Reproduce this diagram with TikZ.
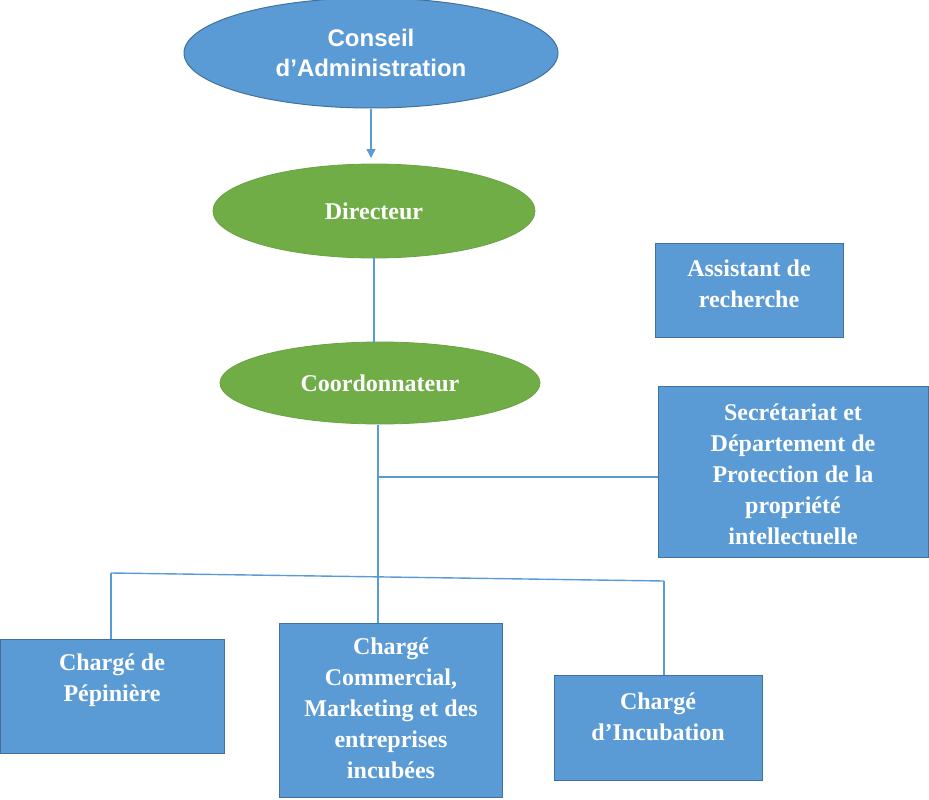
\documentclass[tikz,border=0pt]{standalone}
\usepackage{fontspec}
\setmainfont{Liberation Serif}
\newfontfamily\arialfont{Liberation Sans}
\usetikzlibrary{shapes.geometric,arrows.meta}
\definecolor{boxblue}{HTML}{5B9BD5}
\definecolor{boxedge}{HTML}{41719C}
\definecolor{ellgreen}{HTML}{70AD47}
\definecolor{greenedge}{HTML}{6AA342}
\definecolor{linkblue}{HTML}{5B9BD5}
\tikzset{
  x=1pt,y=-1pt,
  blueell/.style={ellipse,fill=boxblue,draw=boxedge,line width=1pt,inner sep=0pt,text=white,font=\arialfont\bfseries\fontsize{24}{30}\selectfont,align=center},
  greenell/.style={ellipse,fill=ellgreen,draw=greenedge,line width=0.8pt,inner sep=0pt,text=white,font=\bfseries\fontsize{24}{31}\selectfont,align=center},
  orgbox/.style={rectangle,fill=boxblue,draw=boxedge,line width=1pt,inner sep=0pt},
  boxtext/.style={text=white,font=\bfseries\fontsize{24}{31}\selectfont,align=center,inner sep=0pt},
  link/.style={draw=linkblue,line width=1.4pt},
}
\begin{document}
\begin{tikzpicture}
\useasboundingbox (0,0) rectangle (929,800);
% ellipses
\node[blueell,minimum width=374,minimum height=110] (ca) at (371,53) {Conseil\\d’Administration};
\node[greenell,minimum width=322,minimum height=94] (dir) at (374,211) {Directeur};
\node[greenell,minimum width=320,minimum height=82] (coord) at (380,383) {Coordonnateur};
% right boxes
\node[orgbox,minimum width=188,minimum height=94] (asst) at (749,290) {};
\node[boxtext] (asstt) at (749,284) {Assistant de\\recherche};
\node[orgbox,minimum width=270,minimum height=171] (sec) at (793,472) {};
\node[boxtext] (sect) at (793,474) {Secrétariat et\\Département de\\Protection de la\\propriété\\intellectuelle};
% bottom boxes
\node[orgbox,minimum width=224,minimum height=114] (pep) at (112,696) {};
\node[boxtext] (pept) at (112,680) {Chargé de\\Pépinière};
\node[orgbox,minimum width=223,minimum height=174] (com) at (391,710) {};
\node[boxtext] (comt) at (391,708) {Chargé\\Commercial,\\Marketing et des\\entreprises\\incubées};
\node[orgbox,minimum width=208,minimum height=105] (inc) at (658,728) {};
\node[boxtext] (inct) at (658,717) {Chargé\\d’Incubation};
% connectors
\coordinate (jsec) at (378,477);
\coordinate (busL) at (111,573);
\coordinate (busM) at (378,577);
\coordinate (busR) at (664,581);
\draw[link,-{Triangle[length=9pt,width=9pt]}] (ca.south) -- (371,158);
\draw[link] (dir.south) -- (coord.north -| dir.south);
\draw[link] (378,425) -- (com.north -| 378,0);
\draw[link] (jsec) -- (sec.west |- jsec);
\draw[link] (busL) -- (busR);
\draw[link] (busL) -- (pep.north -| busL);
\draw[link] (busR) -- (inc.north -| busR);
\end{tikzpicture}
\end{document}
